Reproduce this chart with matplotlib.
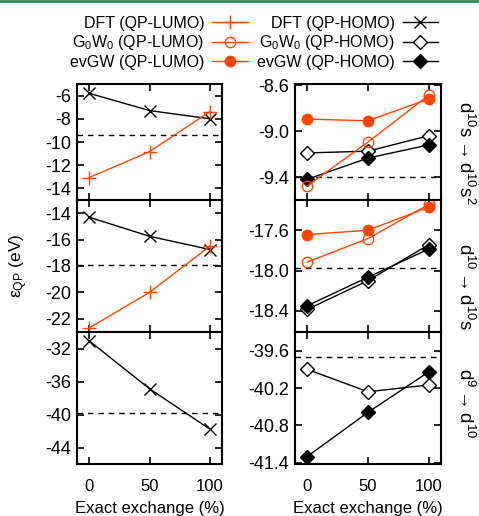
import matplotlib
matplotlib.use("Agg")
from matplotlib import pyplot as plt
from matplotlib.lines import Line2D
import numpy as np

plt.rcParams['font.family'] = ['Liberation Sans', 'DejaVu Sans']
plt.rcParams['mathtext.fontset'] = 'custom'
plt.rcParams['mathtext.rm'] = 'Liberation Sans'
plt.rcParams['mathtext.it'] = 'Liberation Sans:italic'
plt.rcParams['font.size'] = 12

exx = [0, 50, 100]

# left column: DFT
dft_lumo_1 = [-13.07, -10.83, -7.38]
dft_homo_1 = [-5.8, -7.29, -8.0]
dft_lumo_2 = [-22.7, -20.0, -16.5]
dft_homo_2 = [-14.3, -15.75, -16.75]
dft_homo_3 = [-31.06, -36.88, -41.78]
ref_left = [-9.39, -17.95, -39.8]

# right column: GW
g0w0_lumo_1 = [-9.478, -9.095, -8.687]
evgw_lumo_1 = [-8.896, -8.91, -8.72]
g0w0_homo_1 = [-9.19, -9.175, -9.04]
evgw_homo_1 = [-9.42, -9.235, -9.12]
g0w0_lumo_2 = [-17.916, -17.683, -17.343]
evgw_lumo_2 = [-17.643, -17.6, -17.37]
g0w0_homo_2 = [-18.386, -18.1, -17.743]
evgw_homo_2 = [-18.35, -18.066, -17.786]
g0w0_homo_3 = [-39.9, -40.26, -40.15]
evgw_homo_3 = [-41.3, -40.59, -39.94]
ref_right = [-9.4, -17.97, -39.7]

transitions = [r"d$^{10}$s$\rightarrow$d$^{10}$s$^2$", r"d$^{10}$$\rightarrow$d$^{10}$s", r"d$^9$$\rightarrow$d$^{10}$"]

orange = "#ff4500"
W, H = 479, 516

fig = plt.figure(figsize=(W / 100, H / 100), dpi=100)

rows = [(84, 200), (200, 332), (332, 464)]
left_x = (77, 222)
right_x = (295, 441)

def make_ax(xs, ys):
  return fig.add_axes([xs[0] / W, 1 - ys[1] / H, (xs[1] - xs[0]) / W, (ys[1] - ys[0]) / H])

def style(ax, ylim, yticks, fmt, bottom):
  ax.set_xlim(-10, 110)
  ax.set_ylim(*ylim)
  ax.set_xticks(exx)
  ax.set_yticks(yticks)
  ax.set_yticklabels([fmt % t for t in yticks])
  ax.tick_params(direction='in', top=True, right=True, length=5, width=1.2)
  ax.tick_params(axis='y', labelsize=13, pad=4)
  ax.tick_params(axis='x', labelsize=12, pad=11)
  for s in ax.spines.values():
    s.set_linewidth(1.5)
  if bottom:
    ax.set_xlabel("Exact exchange (%)", fontsize=12, labelpad=5)
  else:
    ax.set_xticklabels([])

lw = 1.0
dash = dict(color='black', linestyle=(0, (4, 3.5)), linewidth=1.0)

# left column
left_lims = [(-15, -5), (-23, -13), (-46, -30)]
left_ticks = [[-14, -12, -10, -8, -6], [-22, -20, -18, -16, -14], [-44, -40, -36, -32]]
lumo_left = [dft_lumo_1, dft_lumo_2, None]
homo_left = [dft_homo_1, dft_homo_2, dft_homo_3]
for i in range(3):
  ax = make_ax(left_x, rows[i])
  ax.axhline(ref_left[i], **dash)
  ax.plot(exx, homo_left[i], color='black', lw=lw, marker='x', ms=8, mew=1.0)
  if lumo_left[i] is not None:
    ax.plot(exx, lumo_left[i], color=orange, lw=lw, marker='+', ms=10, mew=1.0)
  style(ax, left_lims[i], left_ticks[i], "%d", i == 2)

# right column
right_lims = [(-9.6, -8.59), (-18.61, -17.3), (-41.42, -39.3)]
right_ticks = [[-9.4, -9.0, -8.6], [-18.4, -18.0, -17.6], [-41.4, -40.8, -40.2, -39.6]]
g0_lumo = [g0w0_lumo_1, g0w0_lumo_2, None]
ev_lumo = [evgw_lumo_1, evgw_lumo_2, None]
g0_homo = [g0w0_homo_1, g0w0_homo_2, g0w0_homo_3]
ev_homo = [evgw_homo_1, evgw_homo_2, evgw_homo_3]
for i in range(3):
  ax = make_ax(right_x, rows[i])
  ax.axhline(ref_right[i], **dash)
  ax.plot(exx, g0_homo[i], color='black', lw=lw, marker='D', ms=7, mfc='white', mec='black', mew=1.0)
  ax.plot(exx, ev_homo[i], color='black', lw=lw, marker='D', ms=7, mfc='black', mec='black')
  if g0_lumo[i] is not None:
    ax.plot(exx, g0_lumo[i], color=orange, lw=lw, marker='o', ms=7.5, mfc='none', mec=orange, mew=1.0)
    ax.plot(exx, ev_lumo[i], color=orange, lw=lw, marker='o', ms=7.5, mfc=orange, mec=orange)
  style(ax, right_lims[i], right_ticks[i], "%.1f", i == 2)

# transition labels on the right
label_y = [153, 287, 403]
for lab, yy in zip(transitions, label_y):
  fig.text(465 / W, 1 - yy / H, lab, rotation=-90, ha='center', va='center', fontsize=13.5)

fig.text(19 / W, 1 - 266 / H, r"ε$_{\mathrm{QP}}$ (eV)", rotation=90, ha='center', va='center', fontsize=12.5)

# legend
handles = [
  Line2D([], [], color=orange, lw=lw, marker='+', ms=10, mew=1.0),
  Line2D([], [], color=orange, lw=lw, marker='o', ms=7.5, mfc='none', mec=orange),
  Line2D([], [], color=orange, lw=lw, marker='o', ms=7.5, mfc=orange, mec=orange),
  Line2D([], [], color='black', lw=lw, marker='x', ms=8),
  Line2D([], [], color='black', lw=lw, marker='D', ms=7, mfc='white', mec='black'),
  Line2D([], [], color='black', lw=lw, marker='D', ms=7, mfc='black'),
]
labels = ["DFT (QP-LUMO)", r"G$_0$W$_0$ (QP-LUMO)", "evGW (QP-LUMO)",
          "DFT (QP-HOMO)", r"G$_0$W$_0$ (QP-HOMO)", "evGW (QP-HOMO)"]
fig.legend(handles, labels, ncol=2, markerfirst=False, frameon=False,
           loc='upper center', bbox_to_anchor=(254 / W, 1 - 16 / H),
           fontsize=11.5, handlelength=2.2, handletextpad=0.5, columnspacing=0.6,
           labelspacing=0.15, borderpad=0, borderaxespad=0)

# thin green rule at the top edge
fig.add_artist(Line2D([0, 1], [1 - 1 / H, 1 - 1 / H], color="#2a8a5a", lw=2, transform=fig.transFigure))

fig.savefig("out.png", dpi=100)
